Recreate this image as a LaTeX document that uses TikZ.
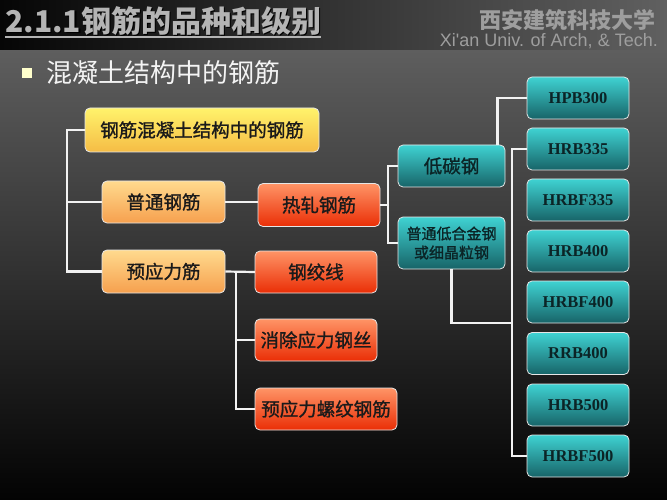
\documentclass[tikz,border=0pt]{standalone}
\usepackage{fontspec}
\newfontfamily\cjk{Noto Sans CJK SC}
\newfontfamily\cjkfb{Noto Sans CJK SC}[FakeBold=1.2]
\newfontfamily\serifb{Liberation Serif}
\newfontfamily\sansf{Liberation Sans}
\usetikzlibrary{calc}
\definecolor{bgtop}{HTML}{5E5E5E}
\definecolor{bgmid}{HTML}{2A2A2A}
\definecolor{bgbot}{HTML}{030303}
\definecolor{hdl}{HTML}{060606}
\definecolor{hdr}{HTML}{606060}
\definecolor{titlegray}{HTML}{B4B4B4}
\definecolor{unigray}{HTML}{9E9E9E}
\definecolor{bulletyellow}{HTML}{FFFFCC}
\definecolor{subwhite}{HTML}{F4F4F4}
\definecolor{yelT}{HTML}{FFF36B}
\definecolor{yelB}{HTML}{F5BC45}
\definecolor{orgT}{HTML}{FFDA8E}
\definecolor{orgB}{HTML}{F6A04E}
\definecolor{redT}{HTML}{FF9466}
\definecolor{redB}{HTML}{EA2E06}
\definecolor{tealT}{HTML}{3FD2D2}
\definecolor{tealB}{HTML}{176468}
\definecolor{boxedge}{HTML}{E6E6E6}
\definecolor{boxtext}{HTML}{1A1A1A}
\definecolor{tealtext}{HTML}{0B2426}
\definecolor{lnkcol}{HTML}{F2F2F2}
\tikzset{
  basebox/.style={rounded corners=5, draw=boxedge, line width=0.8, inner sep=0,
    align=center, font=\cjkfb\fontsize{18.5}{20}\selectfont, text=boxtext},
  yelbox/.style={basebox, top color=yelT, bottom color=yelB},
  orgbox/.style={basebox, top color=orgT, bottom color=orgB},
  redbox/.style={basebox, top color=redT, bottom color=redB},
  tealbox/.style={basebox, top color=tealT, bottom color=tealB, text=tealtext},
  gradebox/.style={tealbox, minimum width=102, minimum height=42,
    font=\serifb\bfseries\fontsize{16.5}{16.5}\selectfont},
  lnk/.style={draw=lnkcol, line width=2.2}
}
\begin{document}
\begin{tikzpicture}[x=1pt,y=1pt]
\useasboundingbox (0,-500) rectangle (667,0);
% backgrounds
\shade[top color=bgtop, middle color=bgmid, bottom color=bgbot] (0,-50) rectangle (667,-500);
\shade[left color=hdl, right color=hdr] (0,0) rectangle (667,-50);
% title
\node[anchor=west, inner sep=0, font=\cjk\bfseries\fontsize{30}{30}\selectfont, text=black] (titleshadow) at (6.5,-22.5) {2.1.1钢筋的品种和级别};
\node[anchor=west, inner sep=0, font=\cjk\bfseries\fontsize{30}{30}\selectfont, text=titlegray] (title) at (5,-21) {2.1.1钢筋的品种和级别};
\coordinate (ulinebase) at (0,-37);
\draw[titlegray, line width=1.5] (title.west |- ulinebase) -- (title.east |- ulinebase);
\node[anchor=east, inner sep=0, font=\cjk\bfseries\fontsize{22}{22}\selectfont, text=unigray] (uni) at (656,-20) {西安建筑科技大学};
\node[anchor=east, inner sep=0, font=\sansf\fontsize{18}{18}\selectfont, text=unigray] (unien) at (658,-41) {Xi'an Univ. of Arch, \& Tech.};
% subtitle
\node[fill=bulletyellow, minimum size=10, inner sep=0] (bullet) at (27,-73) {};
\node[anchor=west, inner sep=0, font=\cjk\fontsize{26}{26}\selectfont, text=subwhite] (sub) at (46,-73) {混凝土结构中的钢筋};
% boxes
\node[yelbox, minimum width=234, minimum height=44] (rc) at (202,-130) {钢筋混凝土结构中的钢筋};
\node[orgbox, minimum width=123, minimum height=42] (pt) at (163.5,-202) {普通钢筋};
\node[orgbox, minimum width=123, minimum height=43] (yy) at (163.5,-271.5) {预应力筋};
\node[redbox, minimum width=122, minimum height=43] (rz) at (319,-205) {热轧钢筋};
\node[redbox, minimum width=122, minimum height=42] (gjx) at (316,-272) {钢绞线};
\node[redbox, minimum width=122, minimum height=42] (xc) at (316,-340) {消除应力钢丝};
\node[redbox, minimum width=142, minimum height=42] (lw) at (326,-409) {预应力螺纹钢筋};
\node[tealbox, minimum width=107, minimum height=42] (dt) at (451.5,-166) {低碳钢};
\node[tealbox, minimum width=107, minimum height=52, font=\cjkfb\fontsize{15}{19}\selectfont] (dh) at (451.5,-243) {普通低合金钢\\或细晶粒钢};
\node[gradebox] (t1) at (578,-98) {HPB300};
\node[gradebox] (t2) at (578,-149) {HRB335};
\node[gradebox] (t3) at (578,-200) {HRBF335};
\node[gradebox] (t4) at (578,-251) {HRB400};
\node[gradebox] (t5) at (578,-302) {HRBF400};
\node[gradebox] (t6) at (578,-353.5) {RRB400};
\node[gradebox] (t7) at (578,-405) {HRB500};
\node[gradebox] (t8) at (578,-456) {HRBF500};
% connectors
\coordinate (lbus) at (67,-202);
\draw[lnk] (rc.west) -| (lbus) |- (yy.west);
\draw[lnk] (lbus) -- (pt.west);
\draw[lnk] (pt.east) -- (pt.east -| rz.west);
\coordinate (rbus) at (388,-205);
\draw[lnk] (rz.east) -- (rbus);
\draw[lnk] (dt.west) -| (rbus) |- (dh.west);
\draw[lnk] ($(dt.north east)+(-8,0)$) |- (t1.west);
\coordinate (tbus) at (512,-323);
\draw[lnk] (dh.south) |- (tbus);
\draw[lnk] (t2.west) -| (tbus) |- (t8.west);
\coordinate (pbus) at (236,-340);
\draw[lnk] (yy.east) -- (gjx.west);
\draw[lnk] (gjx.west) -| (pbus) |- (lw.west);
\draw[lnk] (pbus) -- (xc.west);
\end{tikzpicture}
\end{document}
